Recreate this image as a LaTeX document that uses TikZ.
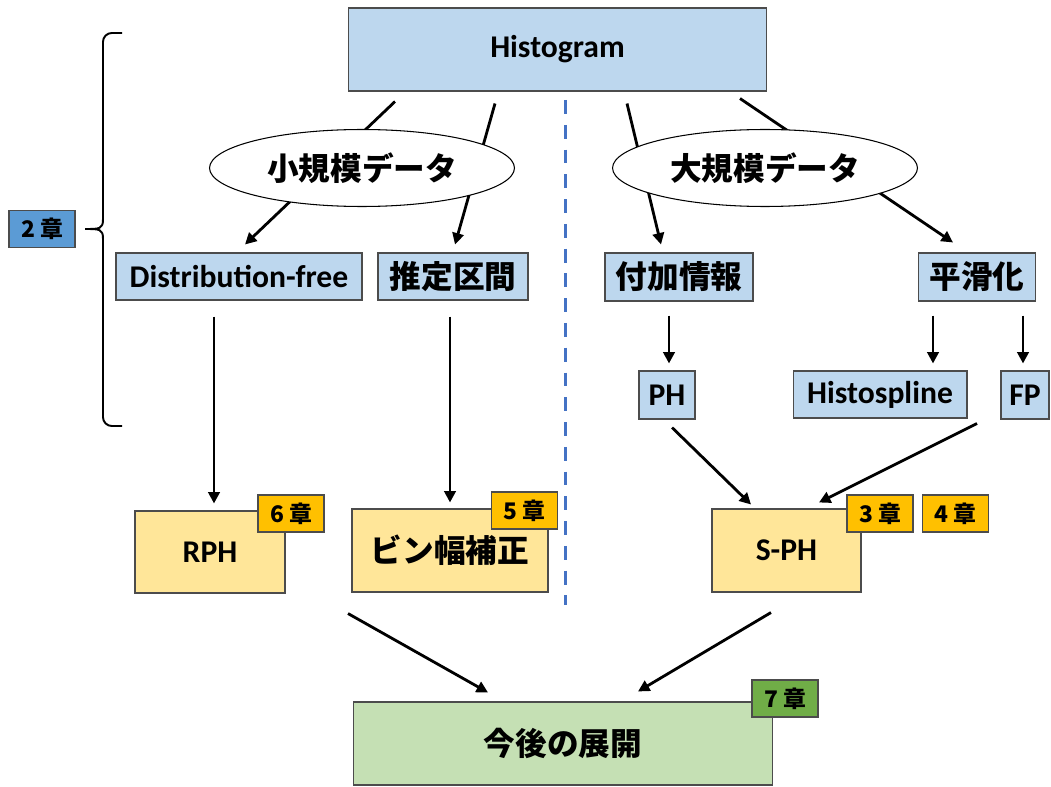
\documentclass[tikz,border=0pt]{standalone}
\usepackage{fontspec}
\setmainfont{Carlito}[Extension=.ttf, UprightFont=*-Regular, BoldFont=*-Bold, ItalicFont=*-Italic, BoldItalicFont=*-BoldItalic]
\newfontfamily\jp{Noto Sans CJK JP}
\usetikzlibrary{arrows.meta,shapes.geometric}
\definecolor{boxblue}{HTML}{BDD7EE}
\definecolor{chapblue}{HTML}{5B9BD5}
\definecolor{boxyellow}{HTML}{FFE699}
\definecolor{chapgold}{HTML}{FFC000}
\definecolor{boxgreen}{HTML}{C5E0B4}
\definecolor{chapgreen}{HTML}{70AD47}
\definecolor{dashblue}{HTML}{4472C4}

\begin{document}
\begin{tikzpicture}[
    x=0.02cm, y=-0.02cm,
    every node/.style={inner sep=0pt, font=\fontsize{18}{20}\selectfont\bfseries},
    bluebox/.style={draw=black!70, line width=0.6pt, fill=boxblue},
    yellowbox/.style={draw=black!70, line width=0.6pt, fill=boxyellow},
    greenbox/.style={draw=black!70, line width=0.6pt, fill=boxgreen},
    chapbox/.style={draw=black!70, line width=0.6pt, minimum width=1.32cm, minimum height=0.74cm,
        font=\jp\fontsize{13}{15}\selectfont\bfseries},
    databubble/.style={ellipse, draw, line width=0.6pt, fill=white, minimum width=6.1cm, minimum height=1.54cm},
    arr/.style={-{Triangle[length=6.5pt,width=6.5pt]}, line width=1.6pt},
    divider/.style={draw=dashblue, line width=1.7pt, dash pattern=on 7.9pt off 6.2pt}
]
\useasboundingbox (0,0) rectangle (1051,787);

\node[bluebox, minimum width=8.38cm, minimum height=1.66cm] (hist) at (557.5,49.5) {Histogram};
\node[chapbox, fill=chapblue] (ch2) at (42,229) {2 章};
\node[bluebox, minimum width=4.92cm, minimum height=0.94cm] (dfree) at (239,276.5) {Distribution-free};
\node[bluebox, minimum width=3cm, minimum height=0.94cm] (interval) at (453,276.5) {\jp 推定区間};
\node[bluebox, minimum width=2.96cm, minimum height=0.96cm] (auxinfo) at (679,277) {\jp 付加情報};
\node[bluebox, minimum width=2.34cm, minimum height=0.96cm] (smooth) at (977,277) {\jp 平滑化};
\node[bluebox, minimum width=1.12cm, minimum height=0.96cm] (ph) at (667,395) {PH};
\node[bluebox, minimum width=3.48cm, minimum height=0.94cm] (hspline) at (880,394.5) {Histospline};
\node[bluebox, minimum width=0.96cm, minimum height=0.96cm] (fp) at (1025,395) {FP};

\draw[arr] ([shift={(-162.5,10)}]hist.south) -- ([shift={(6,-8)}]dfree.north);
\draw[arr] ([shift={(-62.5,12)}]hist.south) -- ([shift={(2,-8)}]interval.north);
\draw[arr] ([shift={(69.5,12)}]hist.south) -- ([shift={(-18,-8)}]auxinfo.north);
\draw[arr] ([shift={(182.5,7)}]hist.south) -- ([shift={(-24,-10)}]smooth.north);

\node[databubble] (smalldata) at (362,168) {\jp 小規模データ};
\node[databubble] (largedata) at (765,168) {\jp 大規模データ};

\coordinate (divtop) at (565,100);
\coordinate (divbot) at (565,605);
\draw[divider] (divtop) -- (divbot);

\draw[line width=1.1pt, rounded corners=5pt] (122,33) -- (103,33) -- (103,219);
\draw[line width=1.1pt] (103,219) .. controls (103,229) and (100,229) .. (85,229)
    .. controls (100,229) and (103,229) .. (103,239);
\draw[line width=1.1pt, rounded corners=5pt] (103,239) -- (103,426) -- (122,426);

\node[yellowbox, minimum width=3cm, minimum height=1.64cm] (rph) at (210,552) {RPH};
\node[yellowbox, minimum width=3.92cm, minimum height=1.66cm] (bincorr) at (450,550.5) {\jp ビン幅補正};
\node[yellowbox, minimum width=2.98cm, minimum height=1.66cm] (sph) at (786.5,550.5) {S-PH};
\node[chapbox, fill=chapgold] (ch6) at (291,513.5) {6 章};
\node[chapbox, fill=chapgold] (ch5) at (524.5,510.5) {5 章};
\node[chapbox, fill=chapgold] (ch3) at (880,513.5) {3 章};
\node[chapbox, fill=chapgold] (ch4) at (955.5,513.5) {4 章};
\node[greenbox, minimum width=8.4cm, minimum height=1.66cm] (future) at (563,743.5) {\jp 今後の展開};
\node[chapbox, fill=chapgreen] (ch7) at (785,698.5) {7 章};

\draw[arr] ([shift={(-25,16)}]dfree.south) -- ([shift={(4,-7)}]rph.north);
\draw[arr] ([shift={(-3,16)}]interval.south) -- ([shift={(0,-6)}]bincorr.north);
\draw[arr] ([shift={(-10,14)}]auxinfo.south) -- ([shift={(2,-7)}]ph.north);
\draw[arr] ([shift={(-44,14)}]smooth.south) -- ([shift={(53,-7)}]hspline.north);
\draw[arr] ([shift={(46,14)}]smooth.south) -- ([shift={(-2,-7)}]fp.north);
\draw[arr] ([shift={(5,8)}]ph.south) -- ([shift={(-35.5,-4)}]sph.north);
\draw[arr] ([shift={(-48,4)}]fp.south) -- ([shift={(32.5,-6)}]sph.north);
\draw[arr] ([shift={(-102,21)}]bincorr.south) -- ([shift={(-75,-9)}]future.north);
\draw[arr] ([shift={(-15.5,20)}]sph.south) -- ([shift={(75,-10)}]future.north);
\end{tikzpicture}
\end{document}
